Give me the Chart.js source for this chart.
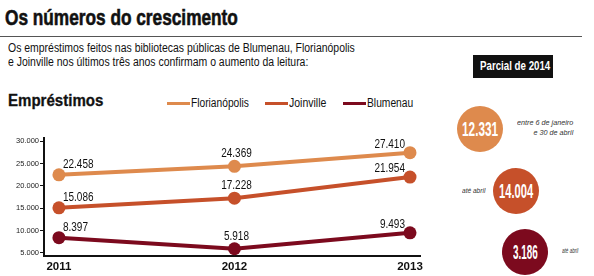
<!DOCTYPE html>
<html>
<head>
<meta charset="utf-8">
<script src="https://cdn.jsdelivr.net/npm/chart.js@4/dist/chart.umd.min.js"></script>
<style>
  body { margin: 0; width: 594px; height: 276px; overflow: hidden; background: #fff; position: relative;
         font-family: 'Liberation Sans', Arial, sans-serif; color: #111; }
  .abs { position: absolute; white-space: nowrap; transform-origin: left top; }
  #title { left: 5px; top: 7px; font-size: 22.5px; line-height: 22px; font-weight: bold; -webkit-text-stroke: 0.6px #111; }
  #rule { left: 0; top: 36px; width: 582px; height: 0; border-top: 1px solid #555; }
  #intro { left: 8px; top: 42px; font-size: 12.5px; line-height: 13.5px; }
  #parcialBox { position: absolute; left: 473px; top: 55px; width: 80px; height: 23px; background: #111; }
  #parcial { left: 480px; top: 59px; color: #fff; font-size: 12.5px; line-height: 15px; font-weight: bold; }
  #heading { left: 8px; top: 93px; font-size: 16px; line-height: 16px; font-weight: bold; -webkit-text-stroke: 0.3px #111; }
  .legLine { position: absolute; top: 102px; width: 23px; height: 3px; }
  .legText { top: 96px; font-size: 12.5px; line-height: 14px; }
  .bubble { position: absolute; width: 46px; height: 46px; border-radius: 50%; }
  .num { color: #fff; font-weight: bold; font-size: 21px; line-height: 20px; }
  .note { font-size: 8px; line-height: 10px; font-style: italic; color: #333; text-align: right; }
  #chartBox { position: absolute; left: 0; top: 120px; width: 440px; height: 156px; }
</style>
</head>
<body>
<div id="title" class="abs">Os números do crescimento</div>
<div id="rule" class="abs"></div>
<div id="intro" class="abs">Os empréstimos feitos nas bibliotecas públicas de Blumenau, Florianópolis<br>e Joinville nos últimos três anos confirmam o aumento da leitura:</div>
<div id="parcialBox"></div>
<div id="parcial" class="abs">Parcial de 2014</div>
<div id="heading" class="abs">Empréstimos</div>
<div id="legend"></div>
<div id="bubbles"></div>
<div id="chartBox"><canvas id="myChart" width="440" height="156"></canvas></div>

<script>
const years = [2011, 2012, 2013];
const cities = ['Florianópolis', 'Joinville', 'Blumenau'];
const florianopolis = [22458, 24369, 27410];
const joinville = [15086, 17228, 21954];
const blumenau = [8397, 5918, 9493];
const yTicks = [5000, 10000, 15000, 20000, 25000, 30000];

const parcial2014 = [12331, 14004, 3186];
const parcialNotes = ['entre 6 de janeiro<br>e 30 de abril', 'até abril', 'até abril'];

const colors = ['#de8a4d', '#c6502a', '#7c0a1e'];

function fmt(v) {
  return String(v).replace(/\B(?=(\d{3})+(?!\d))/g, '.');
}

// squeeze a text block horizontally to the width it has in the print layout
function fit(el, w) {
  el.style.transform = 'scaleX(' + (w / el.offsetWidth) + ')';
}

fit(document.getElementById('title'), 233);
fit(document.getElementById('intro'), 347);
fit(document.getElementById('parcial'), 70);
fit(document.getElementById('heading'), 95);

// legend (html)
const legendX = [167, 265, 343];
const legendW = [58, 37, 46];
const legend = document.getElementById('legend');
cities.forEach((name, i) => {
  const l = document.createElement('div');
  l.className = 'legLine';
  l.style.left = legendX[i] + 'px';
  l.style.background = colors[i];
  legend.appendChild(l);
  const t = document.createElement('div');
  t.className = 'abs legText';
  t.style.left = (legendX[i] + 24) + 'px';
  t.textContent = name;
  legend.appendChild(t);
  fit(t, legendW[i]);
});

// parcial de 2014 circles
const bubblePos = [[457, 106], [493, 168], [502, 229]];
const numW = [36, 34, 25];
const notePos = [[517, 118, 56], [462, 186, 23], [562, 246, 16]];
const bubbles = document.getElementById('bubbles');
parcial2014.forEach((v, i) => {
  const b = document.createElement('div');
  b.className = 'bubble';
  b.style.left = bubblePos[i][0] + 'px';
  b.style.top = bubblePos[i][1] + 'px';
  b.style.background = colors[i];
  bubbles.appendChild(b);
  const n = document.createElement('div');
  n.className = 'abs num';
  n.style.left = (bubblePos[i][0] + 23 - numW[i] / 2) + 'px';
  n.style.top = (bubblePos[i][1] + 13) + 'px';
  n.textContent = fmt(v);
  bubbles.appendChild(n);
  fit(n, numW[i]);
  const t = document.createElement('div');
  t.className = 'abs note';
  t.style.left = notePos[i][0] + 'px';
  t.style.top = notePos[i][1] + 'px';
  t.innerHTML = parcialNotes[i];
  bubbles.appendChild(t);
  fit(t, notePos[i][2]);
});

// value labels above the points
const labelPlacement = [
  { align: 'left', dx: 4, dy: -7 },
  { align: 'center', dx: 2, dy: -9 },
  { align: 'right', dx: -5, dy: -5 }
];
const valueLabels = {
  id: 'valueLabels',
  afterDatasetsDraw(chart) {
    const c = chart.ctx;
    chart.data.datasets.forEach((ds, di) => {
      chart.getDatasetMeta(di).data.forEach((pt, i) => {
        const p = labelPlacement[i];
        c.save();
        c.font = "12.5px 'Liberation Sans', sans-serif";
        c.fillStyle = '#111';
        c.textBaseline = 'alphabetic';
        c.textAlign = p.align;
        c.translate(pt.x + p.dx, pt.y + p.dy);
        c.scale(0.8, 1);
        c.fillText(fmt(ds.data[i].y), 0, 0);
        c.restore();
      });
    });
  }
};

const series = [florianopolis, joinville, blumenau];

const data = {
  datasets: series.map((values, s) => ({
    label: cities[s],
    data: years.map((y, i) => ({ x: y, y: values[i] })),
    borderColor: colors[s],
    backgroundColor: colors[s],
    pointBackgroundColor: colors[s],
    pointBorderWidth: 0,
    pointRadius: 6.5,
    borderWidth: 4,
    tension: 0,
    clip: false
  }))
};

const config = {
  type: 'line',
  data,
  options: {
    responsive: false,
    animation: false,
    layout: { padding: { top: 18, right: 20, left: 0, bottom: 0 } },
    plugins: { legend: { display: false }, tooltip: { enabled: false } },
    scales: {
      x: {
        type: 'linear',
        min: 2010.915,
        max: 2013.057,
        afterBuildTicks: (s) => { s.ticks = years.map(v => ({ value: v })); },
        afterFit: (s) => { s.height = 20; },
        ticks: { callback: (v) => String(v), font: { family: "'Liberation Sans', sans-serif", size: 11.5, weight: 'bold' }, color: '#111', padding: 4, maxRotation: 0 },
        grid: { drawOnChartArea: false, drawTicks: false },
        border: { color: '#111', width: 2 }
      },
      y: {
        min: 4300,
        max: 30700,
        afterBuildTicks: (s) => { s.ticks = yTicks.map(v => ({ value: v })); },
        afterFit: (s) => { s.width = 44; },
        ticks: { callback: (v) => fmt(v), font: { family: "'Liberation Sans', sans-serif", size: 7.5 }, color: '#222', padding: 1 },
        grid: { drawOnChartArea: false, tickLength: 4, color: '#111', lineWidth: 1 },
        border: { color: '#111', width: 2 }
      }
    }
  },
  plugins: [valueLabels]
};

const myChart = new Chart(document.getElementById('myChart'), config);
</script>
</body>
</html>
